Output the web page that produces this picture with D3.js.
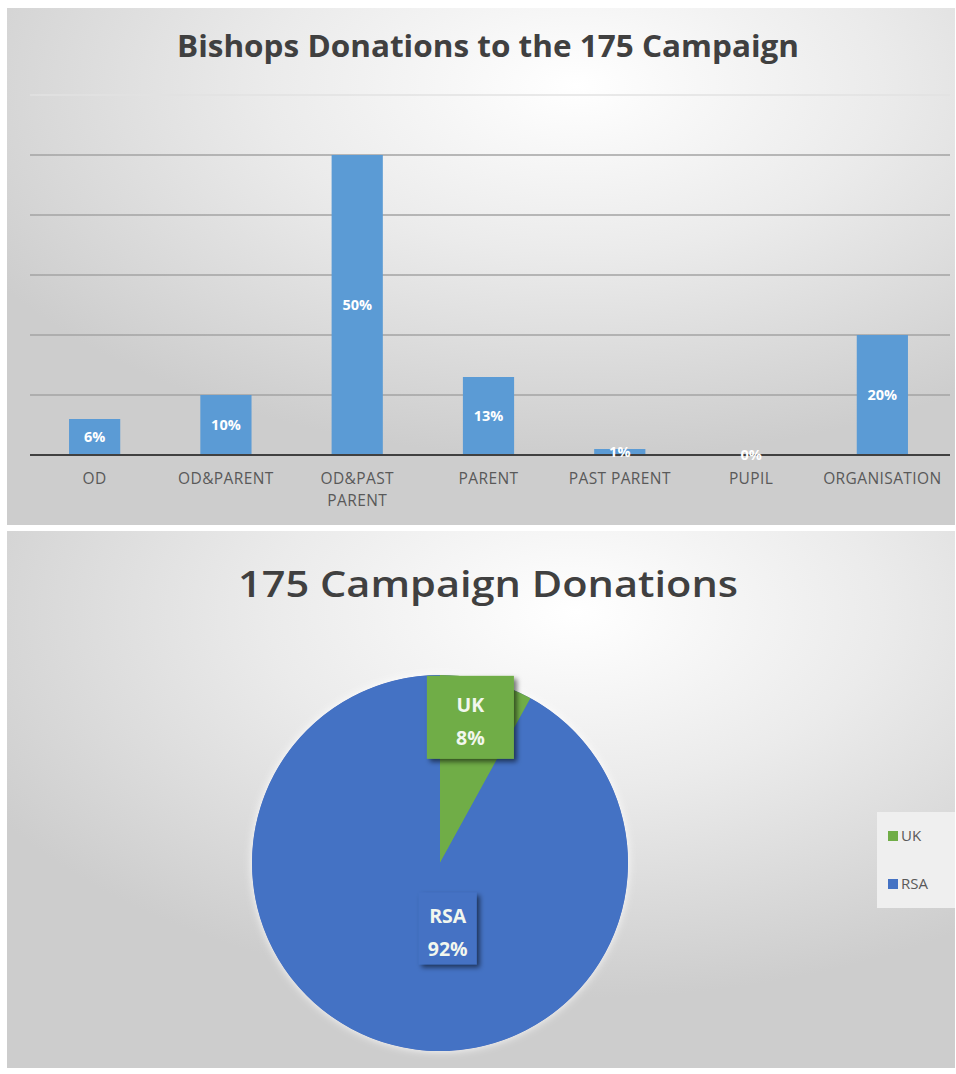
<!DOCTYPE html>
<html lang="en">
<head>
	<title>Bishops Donations</title>
	<script src="https://d3js.org/d3.v7.min.js" charset="utf-8"></script>
	<style>
		body {
		    margin: 0;
		    background: #ffffff;
		    font-family: "Open Sans", "Noto Sans", sans-serif;
		}
		.cat-label {
		    fill: #595959;
		    font-size: 15.5px;
		    letter-spacing: 0.4px;
		}
		.val-label {
		    fill: #ffffff;
		    font-size: 14.5px;
		    font-weight: 700;
		}
		.title {
		    fill: #404040;
		}
	</style>
</head>
<body>
	<script>
		// bar chart data
		var categories = ["OD", "OD&PARENT", "OD&PAST PARENT", "PARENT", "PAST PARENT", "PUPIL", "ORGANISATION"];
		var tickLabels = [["OD"], ["OD&PARENT"], ["OD&PAST", "PARENT"], ["PARENT"], ["PAST PARENT"], ["PUPIL"], ["ORGANISATION"]];
		var shares = [6, 10, 50, 13, 1, 0, 20];
		var gridValues = [0, 10, 20, 30, 40, 50, 60];

		// pie chart data
		var regions = ["UK", "RSA"];
		var regionShares = [8, 92];

		var width = 956, height = 1074;

		var svg = d3.select("body")
		    .append("svg")
		    .attr("width", width)
		    .attr("height", height);

		var defs = svg.append("defs");
		var grad = defs.append("radialGradient")
		    .attr("id", "bg")
		    .attr("cx", "60%").attr("cy", "15%").attr("r", "72%");
		grad.append("stop").attr("offset", "0%").attr("stop-color", "#ffffff");
		grad.append("stop").attr("offset", "45%").attr("stop-color", "#ebebeb");
		grad.append("stop").attr("offset", "100%").attr("stop-color", "#cdcdcd");

		var shadow = defs.append("filter").attr("id", "shadow")
		    .attr("x", "-20%").attr("y", "-20%").attr("width", "150%").attr("height", "150%");
		shadow.append("feDropShadow")
		    .attr("dx", 3).attr("dy", 3).attr("stdDeviation", 2.5)
		    .attr("flood-color", "#000").attr("flood-opacity", 0.55);

		var glow = defs.append("filter").attr("id", "glow")
		    .attr("x", "-10%").attr("y", "-10%").attr("width", "120%").attr("height", "120%");
		glow.append("feDropShadow")
		    .attr("dx", 0).attr("dy", 0).attr("stdDeviation", 4)
		    .attr("flood-color", "#ffffff").attr("flood-opacity", 0.9);

		// ---------- top panel: bar chart ----------
		var barPanel = svg.append("g");
		barPanel.append("rect")
		    .attr("x", 7).attr("y", 8).attr("width", 948).attr("height", 517)
		    .attr("fill", "url(#bg)");

		barPanel.append("text")
		    .attr("class", "title")
		    .attr("x", 488).attr("y", 57)
		    .attr("text-anchor", "middle")
		    .attr("font-size", 31)
		    .attr("font-weight", 700)
		    .attr("textLength", 622)
		    .attr("lengthAdjust", "spacingAndGlyphs")
		    .text("Bishops Donations to the 175 Campaign");

		var x = d3.scaleBand()
		    .domain(categories)
		    .range([29, 948])
		    .paddingInner(0.61)
		    .paddingOuter(0.305);

		var y = d3.scaleLinear()
		    .domain([0, 50])
		    .range([455, 155]);

		// gridlines
		barPanel.selectAll("line.grid")
		    .data(gridValues.slice(1))
		    .enter()
		    .append("line")
		    .attr("class", "grid")
		    .attr("x1", 30).attr("x2", 950)
		    .attr("y1", function(d) { return y(d); })
		    .attr("y2", function(d) { return y(d); })
		    .attr("stroke", function(d) { return d > 50 ? "#e2e2e2" : "#a3a3a3"; })
		    .attr("stroke-width", function(d) { return d > 50 ? 1.5 : 1.6; });

		barPanel.selectAll("rect.bar")
		    .data(shares)
		    .enter()
		    .append("rect")
		    .attr("class", "bar")
		    .attr("x", function(d, i) { return x(categories[i]); })
		    .attr("width", x.bandwidth())
		    .attr("y", function(d) { return y(d); })
		    .attr("height", function(d) { return y(0) - y(d); })
		    .attr("fill", "#5b9bd5");

		// baseline
		barPanel.append("line")
		    .attr("x1", 30).attr("x2", 950)
		    .attr("y1", y(0)).attr("y2", y(0))
		    .attr("stroke", "#404040")
		    .attr("stroke-width", 2.2);

		barPanel.selectAll("text.val-label")
		    .data(shares)
		    .enter()
		    .append("text")
		    .attr("class", "val-label")
		    .attr("x", function(d, i) { return x(categories[i]) + x.bandwidth() / 2; })
		    .attr("y", function(d) { return (y(d) + y(0)) / 2 + 5; })
		    .attr("text-anchor", "middle")
		    .text(function(d) { return d + "%"; });

		var ticks = barPanel.selectAll("text.cat-label")
		    .data(tickLabels)
		    .enter()
		    .append("text")
		    .attr("class", "cat-label")
		    .attr("text-anchor", "middle")
		    .attr("x", function(d, i) { return x(categories[i]) + x.bandwidth() / 2; })
		    .attr("y", 484);
		ticks.selectAll("tspan")
		    .data(function(d) { return d; })
		    .enter()
		    .append("tspan")
		    .attr("x", function() { return d3.select(this.parentNode).attr("x"); })
		    .attr("dy", function(d, i) { return i === 0 ? 0 : 22; })
		    .text(function(d) { return d; });

		// ---------- bottom panel: pie chart ----------
		var piePanel = svg.append("g");
		piePanel.append("rect")
		    .attr("x", 7).attr("y", 531).attr("width", 948).attr("height", 537)
		    .attr("fill", "url(#bg)");

		piePanel.append("text")
		    .attr("class", "title")
		    .attr("x", 488).attr("y", 597)
		    .attr("text-anchor", "middle")
		    .attr("font-size", 36)
		    .attr("font-weight", 600)
		    .attr("textLength", 500)
		    .attr("lengthAdjust", "spacingAndGlyphs")
		    .text("175 Campaign Donations");

		var color = d3.scaleOrdinal()
		    .domain(regions)
		    .range(["#70ad47", "#4472c4"]);

		var radius = 188;
		var pieG = piePanel.append("g")
		    .attr("transform", "translate(440,863)");

		var pie = d3.pie().sort(null)(regionShares);
		var arc = d3.arc().innerRadius(0).outerRadius(radius);

		pieG.append("circle")
		    .attr("r", radius)
		    .attr("fill", "#4472c4")
		    .attr("filter", "url(#glow)");

		pieG.selectAll("path.slice")
		    .data(pie)
		    .enter()
		    .append("path")
		    .attr("class", "slice")
		    .attr("d", arc)
		    .attr("fill", function(d, i) { return color(regions[i]); });

		// data labels with boxed callouts
		var labelArcs = [d3.arc().innerRadius(radius * 0.8).outerRadius(radius * 0.8),
		                 d3.arc().innerRadius(radius * 0.37).outerRadius(radius * 0.37)];
		var labelShift = [[-7, 0], [25, -2]];
		var boxSize = [[87, 83], [58, 72]];

		var labels = pieG.selectAll("g.plabel")
		    .data(pie)
		    .enter()
		    .append("g")
		    .attr("class", "plabel")
		    .attr("transform", function(d, i) {
		        var c = labelArcs[i].centroid(d);
		        return "translate(" + (c[0] + labelShift[i][0]) + "," + (c[1] + labelShift[i][1]) + ")";
		    });

		labels.append("rect")
		    .attr("x", function(d, i) { return -boxSize[i][0] / 2; })
		    .attr("y", function(d, i) { return -boxSize[i][1] / 2; })
		    .attr("width", function(d, i) { return boxSize[i][0]; })
		    .attr("height", function(d, i) { return boxSize[i][1]; })
		    .attr("fill", function(d, i) { return color(regions[i]); })
		    .attr("filter", "url(#shadow)");

		labels.append("text")
		    .attr("text-anchor", "middle")
		    .attr("fill", "#f2f7ee")
		    .attr("font-size", 19.5)
		    .attr("font-weight", 700)
		    .attr("y", -5)
		    .text(function(d, i) { return regions[i]; });

		labels.append("text")
		    .attr("text-anchor", "middle")
		    .attr("fill", "#f2f7ee")
		    .attr("font-size", 19.5)
		    .attr("font-weight", 700)
		    .attr("y", 28)
		    .text(function(d) { return d.data + "%"; });

		// legend
		var legend = piePanel.append("g").attr("transform", "translate(877,812)");
		legend.append("rect")
		    .attr("width", 78).attr("height", 96)
		    .attr("fill", "#efefef");

		var items = legend.selectAll("g.item")
		    .data(regions)
		    .enter()
		    .append("g")
		    .attr("class", "item")
		    .attr("transform", function(d, i) { return "translate(11," + (19 + i * 48) + ")"; });
		items.append("rect")
		    .attr("width", 10).attr("height", 10)
		    .attr("fill", function(d) { return color(d); });
		items.append("text")
		    .attr("x", 13).attr("y", 10)
		    .attr("fill", "#595959")
		    .attr("font-size", 15)
		    .text(function(d) { return d; });
	</script>
</body>
</html>
